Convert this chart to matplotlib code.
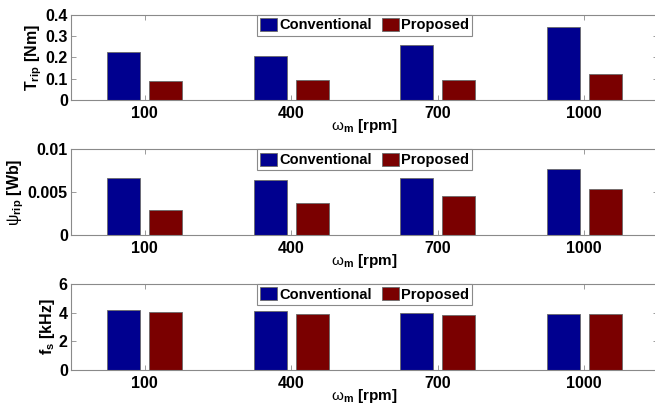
import matplotlib
matplotlib.use("Agg")
import matplotlib.pyplot as plt
import numpy as np

plt.rcParams['font.family'] = ['Liberation Sans', 'DejaVu Sans']
plt.rcParams['mathtext.fontset'] = 'custom'
plt.rcParams['mathtext.rm'] = 'Liberation Sans'
plt.rcParams['mathtext.bf'] = 'Liberation Sans:bold'
plt.rcParams['mathtext.it'] = 'Liberation Sans:italic'

speeds = ['100', '400', '700', '1000']
series = ['Conventional', 'Proposed']
t_conv = [0.227, 0.205, 0.259, 0.341]
t_prop = [0.089, 0.093, 0.093, 0.123]
psi_conv = [0.0067, 0.0064, 0.0067, 0.00774]
psi_prop = [0.0029, 0.0037, 0.00457, 0.00542]
fs_conv = [4.21, 4.12, 3.95, 3.93]
fs_prop = [4.07, 3.88, 3.84, 3.91]

ylabels = [r'T$_{\mathbf{rip}}$ [Nm]', r'$\mathrm{\psi}_{\mathbf{rip}}$ [Wb]', r'f$_{\mathbf{s}}$ [kHz]']
yticks = [[0, 0.1, 0.2, 0.3, 0.4], [0, 0.005, 0.01], [0, 2, 4, 6]]
yticklabels = [['0', '0.1', '0.2', '0.3', '0.4'], ['0', '0.005', '0.01'], ['0', '2', '4', '6']]
ylims = [(0, 0.4), (0, 0.01), (0, 6)]
data = [(t_conv, t_prop), (psi_conv, psi_prop), (fs_conv, fs_prop)]

blue = '#00008f'
red = '#7a0000'
gray = '#8a8a8a'

fig = plt.figure(figsize=(6.55, 4.07), dpi=100)
W, H = 655, 407
tops = [14.7, 149.3, 284.0]
bots = [100.3, 235.3, 370.0]
left_px, right_px = 71.3, 657.5

x = np.arange(1, len(speeds) + 1)
for i in range(3):
    ax = fig.add_axes([left_px / W, 1 - bots[i] / H, (right_px - left_px) / W, (bots[i] - tops[i]) / H])
    c, p = data[i]
    ax.bar(x - 0.143, c, width=0.225, color=blue, edgecolor='#6a6a6a', linewidth=0.6, label=series[0], zorder=2)
    ax.bar(x + 0.143, p, width=0.225, color=red, edgecolor='#6a6a6a', linewidth=0.6, label=series[1], zorder=2)
    ax.set_xlim(0.5, 4.5)
    ax.set_ylim(*ylims[i])
    ax.set_xticks(x)
    ax.set_xticklabels(speeds, fontsize=11.5, fontweight='bold')
    ax.set_yticks(yticks[i])
    ax.set_yticklabels(yticklabels[i], fontsize=11.5, fontweight='bold')
    ax.tick_params(direction='in', length=3.5, width=0.6, color=gray, top=True, right=True, pad=2.5)
    ax.tick_params(axis='x', pad=4)
    for s in ax.spines.values():
        s.set_color(gray)
        s.set_linewidth(0.8)
    ax.set_xlabel(r'$\mathrm{\omega}_{\mathbf{m}}$ [rpm]', fontsize=11, fontweight='bold', labelpad=-2.5)
    ax.set_ylabel(ylabels[i], fontsize=11.5, fontweight='bold', labelpad=1)
    leg = ax.legend(loc='upper center', ncol=2, borderaxespad=0, fancybox=False,
                    prop={'weight': 'bold', 'size': 10.5}, handlelength=1.2, handleheight=1.0,
                    handletextpad=0.12, columnspacing=0.7, borderpad=0.22, framealpha=1)
    leg.get_frame().set_edgecolor(gray)
    leg.get_frame().set_linewidth(0.8)

fig.savefig('out.png', dpi=100)
